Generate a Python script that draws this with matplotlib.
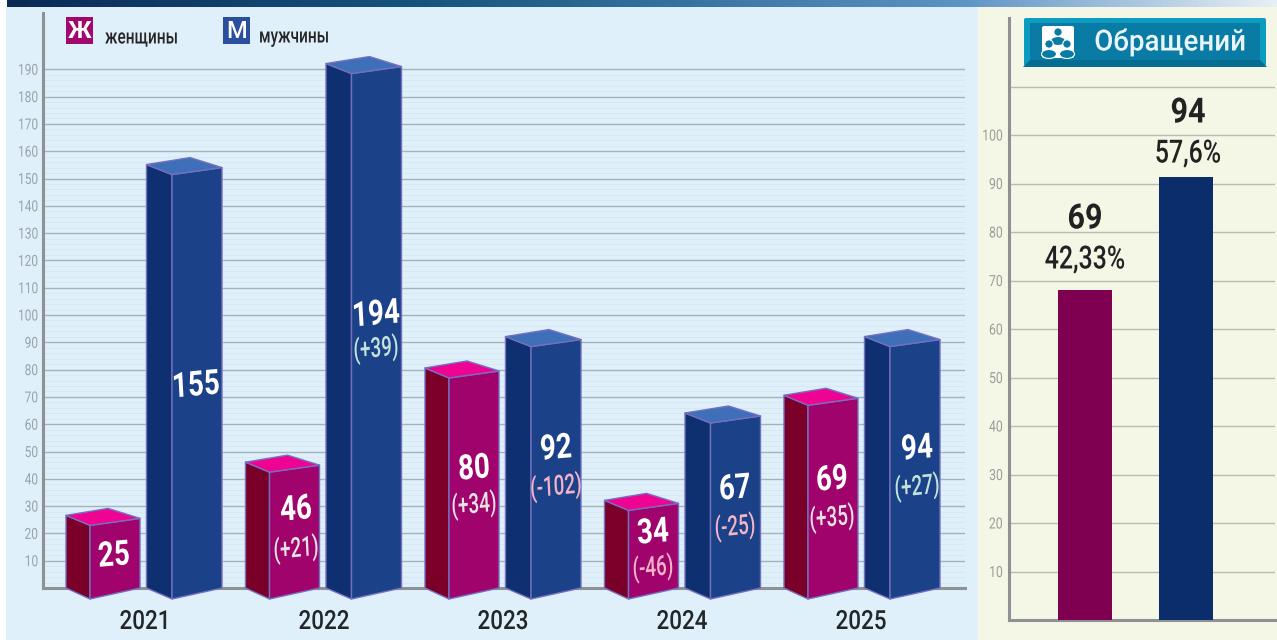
import matplotlib
matplotlib.use("Agg")
import matplotlib.pyplot as plt
import numpy as np
from matplotlib.colors import LinearSegmentedColormap
from matplotlib.patches import Polygon, Rectangle, FancyBboxPatch, Circle, Ellipse
from matplotlib.patheffects import AbstractPathEffect
from matplotlib.transforms import Affine2D

W, H = 1277, 640

years = ["2021", "2022", "2023", "2024", "2025"]
women_labels = [25, 46, 80, 34, 69]
men_labels = [155, 194, 92, 67, 94]
women_heights = [25.5, 45, 79.5, 31, 69.5]
men_heights = [154, 191, 91, 63, 91]
women_delta = ["", "(+21)", "(+34)", "(-46)", "(+35)"]
men_delta = ["", "(+39)", "(-102)", "(-25)", "(+27)"]
total_heights = [68, 91.4]
total_counts = ["69", "94"]
total_shares = ["42,33%", "57,6%"]
legend_names = ["женщины", "мужчины"]
panel_title = "Обращений"

plt.rcParams["font.family"] = ["Roboto", "DejaVu Sans"]

C_W = dict(side="#7a0029", front="#a0046c", top="#ee0392")
C_M = dict(side="#0e2f70", front="#1b4188", top="#3f6fb9")
EDGE = "#7470c0"
GRID = "#a3b3bd"
AXC = "#8e9296"


class Squeeze(AbstractPathEffect):
    """Condense text horizontally about a fixed pixel column."""

    def __init__(self, anchor, sx):
        super().__init__()
        self.extra = Affine2D().translate(-anchor, 0).scale(sx, 1).translate(anchor, 0)

    def draw_path(self, renderer, gc, tpath, affine, rgbFace=None):
        renderer.draw_path(gc, tpath, affine.frozen() + self.extra, rgbFace)


fig = plt.figure(figsize=(W / 100, H / 100), dpi=100, facecolor="white")


def axes_px(x0, y0, x1, y1, **kw):
    return fig.add_axes([x0 / W, 1 - y1 / H, (x1 - x0) / W, (y1 - y0) / H], **kw)


# backgrounds
bg = axes_px(0, 0, W, H, zorder=0)
bg.set_xlim(0, W); bg.set_ylim(H, 0); bg.axis("off")
bg.add_patch(Rectangle((6, 7), 972, 633, color="#dff0fb", lw=0))
bg.add_patch(Rectangle((978, 7), 299, 633, color="#f4f6e6", lw=0))
cmap = LinearSegmentedColormap.from_list(
    "banner", [(0, "#0b2a55"), (0.33, "#15557f"), (0.75, "#5b93c4"), (1, "#e8eff5")])
bg.imshow(np.linspace(0, 1, 512)[None, :], extent=(7, W, 7.5, 0), cmap=cmap, aspect="auto")
bg.set_xlim(0, W); bg.set_ylim(H, 0)

# left chart
GX0, GX1, GY0, GY1 = 43, 965, 13, 588
UNIT_X = 179.5
UNIT_Y = 2.73
WOMAN_RIGHT = 140
MAN_SHIFT = 82
ax = axes_px(GX0, GY0, GX1, GY1, zorder=1)
ax.patch.set_alpha(0)
ax.set_xlim((GX0 - WOMAN_RIGHT) / UNIT_X, (GX1 - WOMAN_RIGHT) / UNIT_X)
ax.set_ylim(0, (GY1 - GY0) / UNIT_Y)
ax.set_yticks(np.arange(10, 200, 10))
ax.set_yticks(np.arange(2, 192, 2), minor=True)
ax.set_xticks([])
ax.tick_params(axis="y", which="major", length=0, labelsize=11, labelcolor="#9ca3a8", pad=3.5)
ax.tick_params(axis="y", which="minor", length=0)
ax.grid(axis="y", which="minor", color="#d3e5f0", lw=0.5)
ax.grid(axis="y", which="major", color=GRID, lw=1.0)
ax.set_axisbelow(True)
for s in ("top", "right"):
    ax.spines[s].set_visible(False)
for s in ("left", "bottom"):
    ax.spines[s].set_color(AXC)
    ax.spines[s].set_linewidth(2.2)
for lbl in ax.get_yticklabels():
    lbl.set_path_effects([Squeeze(38, 0.78)])


def bar3d(i, height, shift, col, back=-74):
    def pt(dx, dy_px, base=False):
        y = (0 if base else height) - dy_px / UNIT_Y
        return (i + (shift + dx) / UNIT_X, y)
    kw = dict(closed=True, ec=EDGE, lw=1.0, clip_on=False, joinstyle="round", zorder=3)
    ax.add_patch(Polygon([pt(back, -3), pt(-50, 7), pt(-50, 11, True), pt(back, 0, True)], fc=col["side"], **kw))
    ax.add_patch(Polygon([pt(-50, 7), pt(0, 0), pt(0, 0, True), pt(-50, 11, True)], fc=col["front"], **kw))
    ax.add_patch(Polygon([pt(back, -3), pt(-32, -10), pt(0, 0), pt(-50, 7)], fc=col["top"], **kw))


for i in range(len(years)):
    bar3d(i, women_heights[i], 0, C_W)
    bar3d(i, men_heights[i], MAN_SHIFT, C_M, back=-75.5)

# right chart
RX0, RX1, RY0, RY1 = 1009, 1275, 18, 620
UNIT_R = 4.85
ar = axes_px(RX0, RY0, RX1, RY1, zorder=1)
ar.patch.set_alpha(0)
ar.set_xlim(RX0, RX1)
ar.set_ylim(0, (RY1 - RY0) / UNIT_R)
ar.set_yticks(np.arange(10, 101, 10))
ar.set_yticks([110], minor=True)
ar.set_xticks([])
ar.tick_params(axis="y", which="both", length=0, labelsize=11, labelcolor="#9b9e98", pad=4.5)
ar.set_yticklabels([], minor=True)
ar.grid(axis="y", which="both", color="#b9bcb2", lw=1.0)
ar.set_axisbelow(True)
for s in ("top", "right"):
    ar.spines[s].set_visible(False)
for s in ("left", "bottom"):
    ar.spines[s].set_color(AXC)
    ar.spines[s].set_linewidth(2.2)
for lbl in ar.get_yticklabels():
    lbl.set_path_effects([Squeeze(1003, 0.8)])
ar.bar([1085, 1186], total_heights, width=54, color=["#7f0050", "#0b2d6b"], zorder=3)

# overlay texts
ov = axes_px(0, 0, W, H, zorder=5)
ov.set_xlim(0, W); ov.set_ylim(H, 0); ov.axis("off")


def t(x, y, s, size, color="#222222", weight="normal", rot=0, ha="center", sx=1.0):
    txt = ov.text(x, y + 2, s, fontsize=size, color=color, fontweight=weight, rotation=rot,
                  ha=ha, va="center", rotation_mode="anchor")
    if sx != 1.0:
        txt.set_path_effects([Squeeze(x, sx)])
    return txt


year_x = [145, 324, 503, 682, 861]
for x, y in zip(year_x, years):
    t(x, 620, y, 19, color="#232628", weight="medium", sx=0.85)

w_lab_x = [114, 296, 474, 653, 832]
w_lab_y = [554, 508, 467, 531, 478]
w_del_y = [0, 547, 503, 566, 516]
m_lab_x = [196, 376, 556, 735, 917]
m_lab_y = [384, 313, 447, 487, 447]
m_del_y = [0, 347, 485, 525, 485]
for i in range(len(years)):
    t(w_lab_x[i], w_lab_y[i], str(women_labels[i]), 25, "white", "bold", rot=4, sx=0.8)
    t(m_lab_x[i], m_lab_y[i], str(men_labels[i]), 25, "white", "bold", rot=4, sx=0.8)
    if women_delta[i]:
        c = "#f4b3c6" if "-" in women_delta[i] else "#e8e2e2"
        t(w_lab_x[i], w_del_y[i], women_delta[i], 20, c, "medium", rot=4, sx=0.68)
    if men_delta[i]:
        c = "#f4b3c6" if "-" in men_delta[i] else "#c2e2da"
        t(m_lab_x[i], m_del_y[i], men_delta[i], 20, c, "medium", rot=4, sx=0.68)

for x, cy, sy, c, sh in zip([1085, 1188], [217, 111], [258, 152], total_counts, total_shares):
    t(x, cy, c, 25, "#222222", "bold", sx=0.88)
    t(x, sy, sh, 23, "#222222", "medium", sx=0.78)

# legend
ov.add_patch(Rectangle((66, 17), 27, 27, color="#a2076f", lw=0))
ov.add_patch(Rectangle((223, 17), 27, 27, color="#2a4f9f", lw=0))
t(79.5, 29, "Ж", 17, "white", "bold")
t(236.5, 29, "М", 17, "white", "medium")
t(105, 36, legend_names[0], 15, "#262626", "medium", ha="left", sx=0.74)
t(259, 35, legend_names[1], 15, "#262626", "medium", ha="left", sx=0.74)

# title button
ov.add_patch(FancyBboxPatch((1024, 18), 242, 48, boxstyle="round,pad=0,rounding_size=2",
                            fc="#0b9cc0", ec="none"))
ov.add_patch(Polygon([(1023, 67), (1267, 67), (1260, 60), (1030, 60)], fc="#056c92", ec="none"))
ov.add_patch(Rectangle((1030, 23), 230, 37, fc="#0a7ba5", ec="none"))
ov.add_patch(FancyBboxPatch((1042, 26), 32, 32, boxstyle="round,pad=0,rounding_size=2",
                            fc="white", ec="none"))
ICON = "#0a7ba5"
for cx, cy, r, bx, by in [(1058, 32, 4.2, 1058, 41), (1049, 44, 4.2, 1049, 54), (1067, 44, 4.2, 1067, 54)]:
    ov.add_patch(Ellipse((bx, by), 15, 9, fc=ICON, ec="white", lw=0.8))
    ov.add_patch(Circle((cx, cy), r, fc=ICON, ec="white", lw=0.8))
t(1170, 40, panel_title, 21, "#e9f5f8", "medium", sx=0.95)

fig.savefig("out.png", dpi=100)
